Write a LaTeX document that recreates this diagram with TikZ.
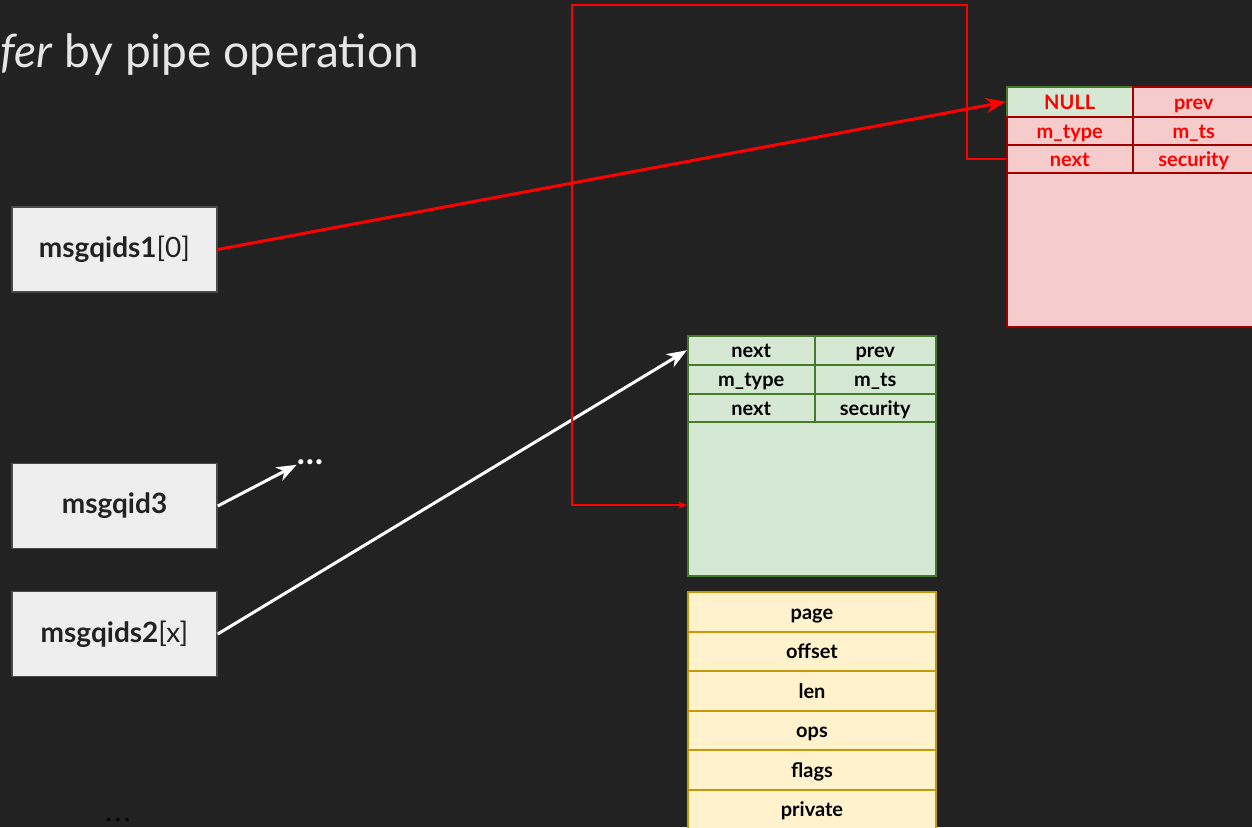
\documentclass[tikz,border=0pt]{standalone}
\usepackage{fontspec}
\setmainfont{Lato}
\usetikzlibrary{arrows.meta}

\definecolor{bgdark}{HTML}{222222}
\definecolor{titletext}{HTML}{E6E6E6}
\definecolor{idfill}{HTML}{EEEEEE}
\definecolor{idline}{HTML}{4A4A4A}
\definecolor{idtext}{HTML}{222222}
\definecolor{greenfill}{HTML}{D5E8D4}
\definecolor{greenline}{HTML}{457A28}
\definecolor{redfill}{HTML}{F5CCCB}
\definecolor{redline}{HTML}{A00000}
\definecolor{redtext}{HTML}{FF0000}
\definecolor{yellowfill}{HTML}{FFF2CC}
\definecolor{yellowline}{HTML}{C59A0A}

\tikzset{
  idbox/.style={draw=idline, fill=idfill, line width=1.5pt, minimum width=205pt,
    minimum height=85pt, inner sep=0pt, text=idtext, font=\fontsize{28}{32}\selectfont},
  cell/.style={draw, line width=1.5pt, anchor=north west, inner sep=0pt,
    text height=16pt, text depth=1pt, font=\bfseries\fontsize{20}{24}\selectfont},
  gcell/.style={cell, draw=greenline, fill=greenfill, text=black},
  rcell/.style={cell, draw=redline, fill=redfill, text=redtext},
  ycell/.style={cell, draw=yellowline, fill=yellowfill, text=black, line width=2pt,
    minimum width=248pt, minimum height=39.5pt},
  ptr/.style={-{Stealth[length=20pt,width=15pt,inset=6pt]}, line width=3pt},
  redlink/.style={-{Stealth[length=9pt,width=7pt,inset=3pt]}, line width=1.5pt, draw=redtext},
}

\begin{document}
\begin{tikzpicture}[x=1pt, y=-1pt]

  % Background
  \fill[bgdark] (0,0) rectangle (1252,827);
  \useasboundingbox (0,0) rectangle (1252,827);

  % Title
  \node[anchor=base west, inner sep=0pt, text=titletext, font=\fontsize{46}{52}\selectfont]
    (title) at (0,67) {\textit{fer} by pipe operation};

  % Queue ids
  \node[idbox] (ids1) at (114.5,249.5) {\textbf{msgqids1}[0]};
  \node[idbox] (ids3) at (114.5,506) {\textbf{msgqid3}};
  \node[idbox] (ids2) at (114.5,634) {\textbf{msgqids2}[x]};
  \node[text=white, inner sep=0pt, font=\bfseries\fontsize{34}{38}\selectfont] (more) at (310,462) {\dots};
  \node[text=black, inner sep=0pt, font=\bfseries\fontsize{22}{26}\selectfont] (dots) at (118,820) {.\hspace{4pt}.\hspace{4pt}.};

  % Message in the red queue
  \node[rcell, minimum width=248pt, minimum height=240pt] (msg1) at (1006,86) {};
  \node[gcell, minimum width=126pt, minimum height=30pt, text=redtext] (rnull) at (1006,86) {NULL};
  \node[rcell, minimum width=122pt, minimum height=30pt] (rprev) at (1132,86) {prev};
  \node[rcell, minimum width=126pt, minimum height=28pt] (rtype) at (1006,116) {m\_type};
  \node[rcell, minimum width=122pt, minimum height=28pt] (rts) at (1132,116) {m\_ts};
  \node[rcell, minimum width=126pt, minimum height=28pt] (rnext) at (1006,144) {next};
  \node[rcell, minimum width=122pt, minimum height=28pt] (rsec) at (1132,144) {security};

  % Message in the green queue
  \node[gcell, minimum width=248pt, minimum height=240pt] (msg2) at (687,335) {};
  \node[gcell, minimum width=127pt, minimum height=29pt] (gnext) at (687,335) {next};
  \node[gcell, minimum width=121pt, minimum height=29pt] (gprev) at (814,335) {prev};
  \node[gcell, minimum width=127pt, minimum height=29pt] (gtype) at (687,364) {m\_type};
  \node[gcell, minimum width=121pt, minimum height=29pt] (gts) at (814,364) {m\_ts};
  \node[gcell, minimum width=127pt, minimum height=28pt] (gnext2) at (687,393) {next};
  \node[gcell, minimum width=121pt, minimum height=28pt] (gsec) at (814,393) {security};
  \coordinate (gin) at (687,505);

  % pipe_buffer
  \foreach \name [count=\i from 0] in {page,offset,len,ops,flags,private}
    \node[ycell] (buf-\name) at (687,591+39.5*\i) {\name};

  % Pointers
  \draw[ptr, draw=redtext, fill=redtext] (ids1.east) -- (rnull.west);
  \draw[ptr, draw=white, fill=white] (ids2.east) -- (gnext.west);
  \draw[ptr, draw=white, fill=white] (ids3.east) -- (more.south west);
  \draw[redlink] (rnext.west) -- ++(-39,0) |- (572,5) |- (gin);

\end{tikzpicture}
\end{document}
